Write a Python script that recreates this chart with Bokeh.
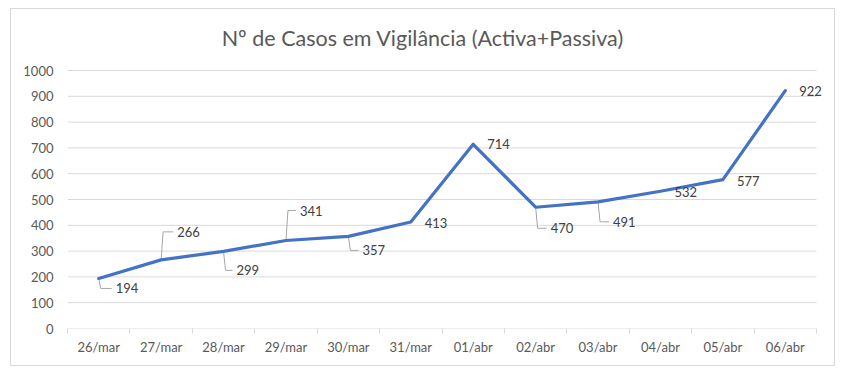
from bokeh.plotting import figure
from bokeh.models import Range1d, FixedTicker, ColumnDataSource, LabelSet, Label
from bokeh.core.properties import value
from bokeh.embed import file_html
from bokeh.resources import INLINE

# ---- data ----
dates = ["26/mar", "27/mar", "28/mar", "29/mar", "30/mar", "31/mar",
         "01/abr", "02/abr", "03/abr", "04/abr", "05/abr", "06/abr"]
cases = [194, 266, 299, 341, 357, 413, 714, 470, 491, 532, 577, 922]
y_ticks = [0, 100, 200, 300, 400, 500, 600, 700, 800, 900, 1000]
title_text = "Nº de Casos em Vigilância (Activa+Passiva)"

# ---- label placement (pixels, relative to the point; +dy = down) ----
label_dx = [17, 16, 13, 14, 14, 14, 14, 15, 15, 14, 14, 14]
label_dy = [10, -28, 19, -30, 14, 1, 0, 21, 20, 1, 1, 0]
has_leader = [True, True, True, True, True, False, False, True, True, False, False, False]

n = len(dates)
PLOT_W, PLOT_H = 749, 258      # size of the category / value area
TOP_ROOM = 61                  # room above the value area (title lives here)
px_x = PLOT_W / n
px_y = PLOT_H / 1000.0
EXTRA = 14                     # room right of the last category for its label
FW = PLOT_W + EXTRA
FH = PLOT_H + TOP_ROOM

xs = [i + 0.5 for i in range(n)]

p = figure(width=823, height=356, frame_width=FW, frame_height=FH,
           x_range=Range1d(0, n + EXTRA / px_x),
           y_range=Range1d(0, y_ticks[-1] + TOP_ROOM / px_y),
           output_backend="svg", toolbar_location=None,
           min_border_left=56, min_border_right=4, min_border_top=0, min_border_bottom=37)
p.styles = {"border": "1px solid #d9d9d9", "margin-left": "10px", "margin-top": "8px"}
p.outline_line_color = None
p.background_fill_color = "white"
p.border_fill_color = "white"

# title (drawn inside the frame area above the value grid)
p.add_layout(Label(x=(422 - 66.7) / px_x, y=y_ticks[-1] + (70 - 37.5) / px_y,
                   text=title_text, text_font="Lato", text_font_size="21.5px",
                   text_color="#595959", text_align="center", text_baseline="middle"))

# grid (drawn as segments spanning the category area only)
p.xgrid.visible = False
p.ygrid.visible = False
p.segment(x0=[0] * (len(y_ticks) - 1), x1=[n] * (len(y_ticks) - 1),
          y0=y_ticks[1:], y1=y_ticks[1:], line_color="#d9d9d9", line_width=1)
# category axis line
p.segment(x0=[0], x1=[n], y0=[y_ticks[0]], y1=[y_ticks[0]], line_color="#d9d9d9", line_width=1)

# y axis
p.yaxis.ticker = FixedTicker(ticks=y_ticks)
p.yaxis.axis_line_color = None
p.yaxis.major_tick_line_color = None
p.yaxis.minor_tick_line_color = None
p.yaxis.major_tick_out = 0
p.yaxis.major_tick_in = 0
p.yaxis.major_label_standoff = 14
p.yaxis.major_label_text_font = "Lato"
p.yaxis.major_label_text_font_size = "13px"
p.yaxis.major_label_text_color = "#595959"

# x axis
p.xaxis.ticker = FixedTicker(ticks=xs, minor_ticks=list(range(n + 1)))
p.xaxis.major_label_overrides = {x: d for x, d in zip(xs, dates)}
p.xaxis.axis_line_color = None
p.xaxis.major_tick_line_color = None
p.xaxis.major_tick_out = 0
p.xaxis.major_tick_in = 0
p.xaxis.minor_tick_line_color = "#d9d9d9"
p.xaxis.minor_tick_out = 5
p.xaxis.minor_tick_in = 0
p.xaxis.major_label_standoff = 5
p.xaxis.major_label_text_font = "Lato"
p.xaxis.major_label_text_font_size = "13px"
p.xaxis.major_label_text_color = "#595959"

# leader lines
lx, ly = [], []
for i in range(n):
    if not has_leader[i]:
        continue
    x0, y0 = xs[i], cases[i]
    ty = y0 - label_dy[i] / px_y
    lx.append([x0, x0 + 2 / px_x, x0 + (label_dx[i] - 4) / px_x])
    ly.append([y0, ty, ty])
p.multi_line(lx, ly, line_color="#a6a6a6", line_width=1)

# series line
p.line(xs, cases, line_color="#4472C4", line_width=3.2, line_join="round", line_cap="round")

# data labels
src = ColumnDataSource(dict(x=xs, y=cases, t=[str(v) for v in cases],
                            dx=label_dx, dy=[-d for d in label_dy]))
p.add_layout(LabelSet(x="x", y="y", text="t", x_offset="dx", y_offset="dy", source=src,
                      text_font=value("Lato"), text_font_size=value("13px"),
                      text_color=value("#404040"),
                      text_align="left", text_baseline="middle"))

open("out.html", "w").write(file_html(p, INLINE))
